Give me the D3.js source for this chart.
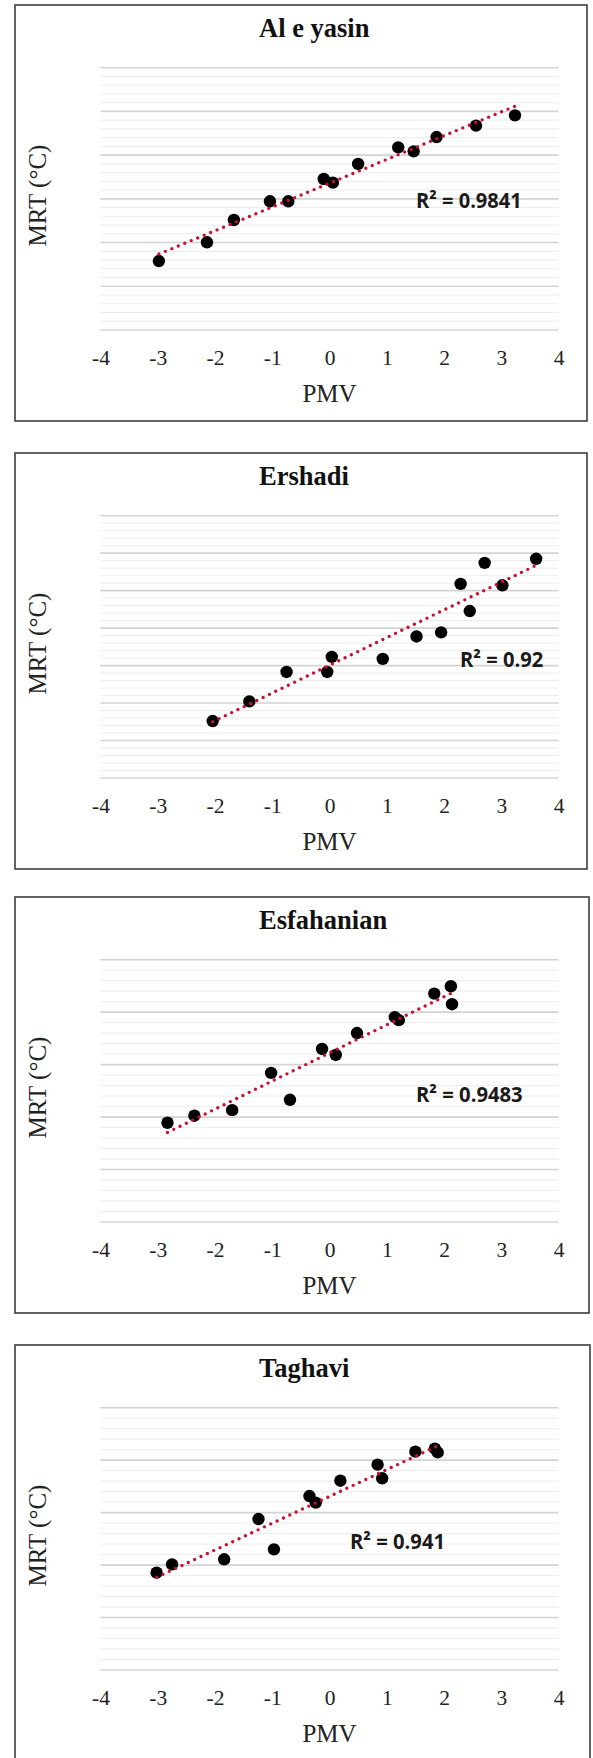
<!DOCTYPE html>
<html><head><meta charset="utf-8">
<script src="https://cdn.jsdelivr.net/npm/d3@7"></script>
<style>body{margin:0;background:#fff}svg{display:block}</style>
</head><body>
<svg id="c" width="593" height="1758"></svg>
<script>
// ---- data ----
const pmvTicks = [-4, -3, -2, -1, 0, 1, 2, 3, 4];
const panelTitles = ["Al e yasin", "Ershadi", "Esfahanian", "Taghavi"];
const r2Texts = ["R\u00B2 = 0.9841", "R\u00B2 = 0.92", "R\u00B2 = 0.9483", "R\u00B2 = 0.941"];
const xLabel = "PMV";
const yLabel = "MRT (\u00B0C)";
// MRT axis has no printed values: values are in gridline (minor) units
const mrtGridSteps = [30, 35, 25, 25];
const majorEvery = 5;

const alPMV = [-2.98, -2.14, -1.67, -1.04, -0.72, -0.10, 0.06, 0.50, 1.20, 1.47, 1.87, 2.56, 3.24];
const alMRT = [7.89, 10.03, 12.58, 14.72, 14.72, 17.27, 16.85, 18.99, 20.89, 20.43, 22.07, 23.37, 24.55];

const erPMV = [-2.04, -1.40, -0.75, -0.04, 0.04, 0.93, 1.52, 1.95, 2.29, 2.45, 2.71, 3.02, 3.61];
const erMRT = [7.60, 10.22, 14.15, 14.15, 16.16, 15.89, 18.89, 19.43, 25.90, 22.28, 28.71, 25.71, 29.25];

const esPMV = [-2.83, -2.36, -1.70, -1.02, -0.69, -0.13, 0.11, 0.48, 1.14, 1.21, 1.83, 2.12, 2.14];
const esMRT = [9.46, 10.13, 10.66, 14.21, 11.65, 16.49, 15.92, 18.01, 19.53, 19.24, 21.77, 22.47, 20.76];

const taPMV = [-3.02, -2.75, -1.84, -1.24, -0.97, -0.35, -0.24, 0.19, 0.84, 0.92, 1.50, 1.84, 1.89];
const taMRT = [9.28, 10.07, 10.55, 14.39, 11.50, 16.58, 15.95, 18.04, 19.57, 18.27, 20.81, 21.09, 20.74];

const seriesPMV = [alPMV, erPMV, esPMV, taPMV];
const seriesMRT = [alMRT, erMRT, esMRT, taMRT];

// ---- layout ----
const tops = [5, 453, 897, 1345];
const rights = [587, 587, 589, 590];
const r2X = [416, 460, 416, 350];
const r2Y = [203.3, 213.7, 205, 204.3];
const r2W = [105.7, 83.3, 106.7, 95];
const boxLeft = 15, boxH = 416;
const plotL = 100.5, plotR = 558.5, plotTop = 62.7, plotBot = 325;

const svg = d3.select("#c");

panelTitles.forEach((title, i) => {
  const T = tops[i];
  const g = svg.append("g");
  g.append("rect")
    .attr("x", boxLeft).attr("y", T)
    .attr("width", rights[i] - boxLeft).attr("height", boxH)
    .attr("fill", "#fff").attr("stroke", "#3c3c3c").attr("stroke-width", 1.6);

  const x = d3.scaleLinear().domain([-4, 4]).range([plotL, plotR]);
  const y = d3.scaleLinear().domain([0, mrtGridSteps[i]]).range([T + plotBot, T + plotTop]);

  // gridlines
  const gv = d3.range(0, mrtGridSteps[i] + 1);
  g.append("g").selectAll("line").data(gv).join("line")
    .attr("x1", plotL).attr("x2", plotR)
    .attr("y1", d => y(d)).attr("y2", d => y(d))
    .attr("stroke", d => d % majorEvery === 0 ? "#d3d3d3" : "#ececec")
    .attr("stroke-width", d => d % majorEvery === 0 ? 1.6 : 1);

  // x axis labels
  const ax = g.append("g").attr("transform", `translate(0,${T + plotBot})`)
    .call(d3.axisBottom(x).tickValues(pmvTicks).tickSize(0).tickPadding(20.1).tickFormat(d => String(d)));
  ax.select(".domain").remove();
  ax.selectAll("text")
    .attr("font-family", "'Liberation Serif','Times New Roman',serif")
    .attr("font-size", 21.5).attr("fill", "#222");

  // title
  g.append("text").attr("x", 259).attr("y", T + 31.5)
    .attr("font-family", "'Liberation Serif','Times New Roman',serif")
    .attr("font-weight", "bold").attr("font-size", 26.5).attr("fill", "#111")
    .text(title);

  // axis titles
  g.append("text").attr("x", (plotL + plotR) / 2).attr("y", T + 397)
    .attr("text-anchor", "middle")
    .attr("font-family", "'Liberation Serif','Times New Roman',serif")
    .attr("font-size", 25).attr("fill", "#222").text(xLabel);
  g.append("text")
    .attr("transform", `translate(45.5,${T + 190.5}) rotate(-90)`)
    .attr("text-anchor", "middle")
    .attr("font-family", "'Liberation Serif','Times New Roman',serif")
    .attr("font-size", 25).attr("fill", "#222").text(yLabel);

  // points
  const px = seriesPMV[i], py = seriesMRT[i];
  const pts = px.map((v, k) => ({ x: v, y: py[k] }));
  g.append("g").selectAll("circle").data(pts).join("circle")
    .attr("cx", d => x(d.x)).attr("cy", d => y(d.y)).attr("r", 6.2)
    .attr("fill", "#000");

  // linear trendline (least squares)
  const mx = d3.mean(px), my = d3.mean(py);
  const sxy = d3.sum(pts, d => (d.x - mx) * (d.y - my));
  const sxx = d3.sum(pts, d => (d.x - mx) * (d.x - mx));
  const b = sxy / sxx, a = my - b * mx;
  const [x0, x1] = d3.extent(px);
  g.append("line")
    .attr("x1", x(x0)).attr("y1", y(a + b * x0))
    .attr("x2", x(x1)).attr("y2", y(a + b * x1))
    .attr("stroke", "#c8102e").attr("stroke-width", 3.4)
    .attr("stroke-linecap", "round").attr("stroke-dasharray", "0,7");

  // R² label
  g.append("text").attr("x", r2X[i]).attr("y", T + r2Y[i])
    .attr("font-family", "'Open Sans', Lato, sans-serif")
    .attr("font-weight", "bold").attr("font-size", 20.5).attr("fill", "#1a1a1a")
    .attr("textLength", r2W[i]).attr("lengthAdjust", "spacingAndGlyphs")
    .text(r2Texts[i]);
});
</script>
</body></html>
